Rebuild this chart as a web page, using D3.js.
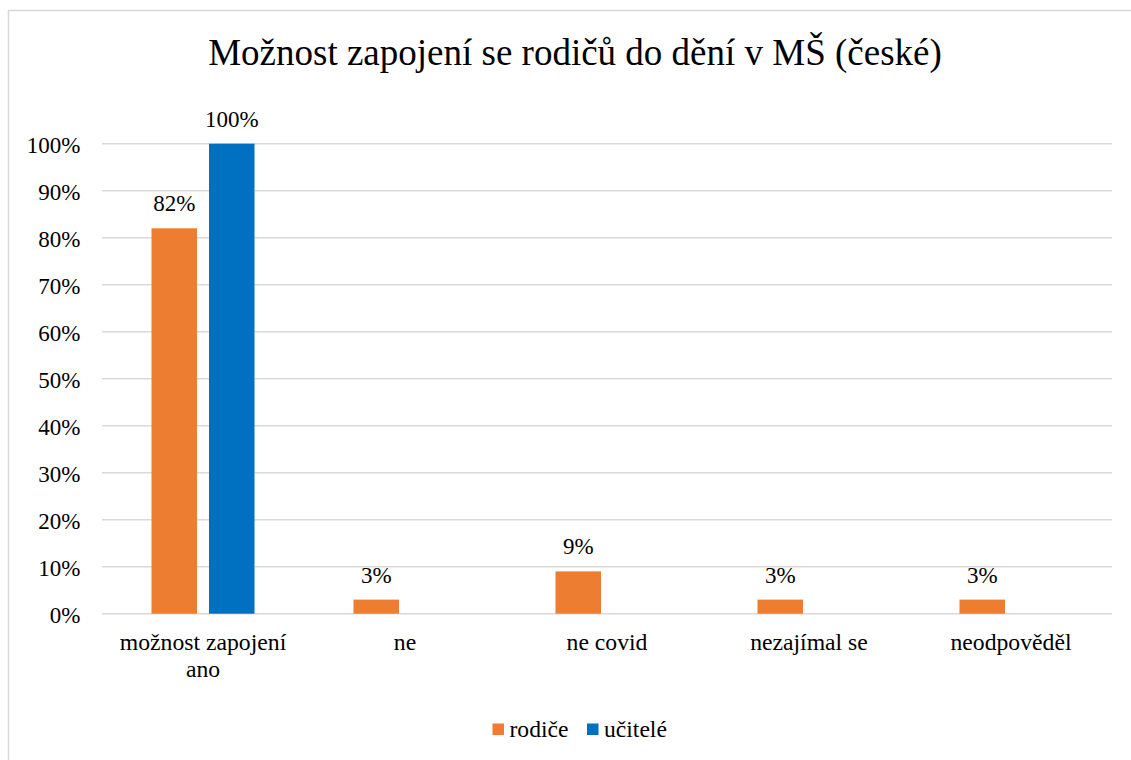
<!DOCTYPE html>
<html>
<head>
<meta charset="utf-8">
<script src="https://cdn.jsdelivr.net/npm/d3@7"></script>
</head>
<body style="margin:0">
<svg id="chart" width="1131" height="760"></svg>
<script>
// chart data
const chartTitle = "Možnost zapojení se rodičů do dění v MŠ (české)";
const categories = ["možnost zapojení ano", "ne", "ne covid", "nezajímal se", "neodpověděl"];
const seriesNames = ["rodiče", "učitelé"];
const rodice = [82, 3, 9, 3, 3];
const ucitele = [100, 0, 0, 0, 0];
const yTicks = [0, 10, 20, 30, 40, 50, 60, 70, 80, 90, 100];

// layout
const svgWidth = 1131;
const svgHeight = 760;
const plotLeft = 102;
const plotRight = 1112;
const plotTop = 143.7;
const plotBottom = 613.7;
const serifFont = "'Liberation Serif', 'Times New Roman', Tinos, serif";
const colors = ["#ED7D31", "#0070C0"];

const svg = d3.select("#chart");

// outer chart border (runs off the right/bottom of the picture)
svg.append("rect")
  .attr("x", 8.5).attr("y", 10.5)
  .attr("width", svgWidth).attr("height", svgHeight)
  .attr("fill", "none")
  .attr("stroke", "#D9D9D9")
  .attr("stroke-width", 1.5);

// title
svg.append("text")
  .attr("x", 575).attr("y", 65)
  .attr("text-anchor", "middle")
  .style("font-family", serifFont)
  .style("font-size", "37px")
  .text(chartTitle);

// scales
const xScale = d3.scaleBand()
  .domain(categories)
  .range([plotLeft, plotRight]);

const yScale = d3.scaleLinear()
  .domain([0, 100])
  .range([plotBottom, plotTop]);

const barWidth = 45.5;
const barGap = 12;
const xSub = d3.scaleOrdinal()
  .domain(seriesNames)
  .range([-(barWidth + barGap / 2), barGap / 2]);

// gridlines
svg.append("g")
  .selectAll("line")
  .data(yTicks)
  .enter()
  .append("line")
  .attr("x1", plotLeft).attr("x2", plotRight)
  .attr("y1", d => yScale(d)).attr("y2", d => yScale(d))
  .attr("stroke", "#D9D9D9")
  .attr("stroke-width", 1.5);

// y axis labels
const yaxis = svg.append("g")
  .attr("transform", `translate(${plotLeft},0)`)
  .call(d3.axisLeft(yScale).tickValues(yTicks).tickFormat(d => d + "%").tickSize(0).tickPadding(21.5));
yaxis.select(".domain").remove();
yaxis.selectAll("text")
  .attr("fill", "#000")
  .attr("dy", "0.37em")
  .style("font-family", serifFont)
  .style("font-size", "23px");

// x axis labels (wrapped like the original)
const xLines = {
  "možnost zapojení ano": ["možnost zapojení", "ano"]
};
const xLabels = svg.append("g");
categories.forEach(c => {
  const lines = xLines[c] || [c];
  const t = xLabels.append("text")
    .attr("x", xScale(c) + xScale.bandwidth() / 2)
    .attr("y", 649.5)
    .attr("text-anchor", "middle")
    .style("font-family", serifFont)
    .style("font-size", "23.7px");
  lines.forEach((l, i) => {
    t.append("tspan")
      .attr("x", xScale(c) + xScale.bandwidth() / 2)
      .attr("dy", i === 0 ? 0 : 27.4)
      .text(l);
  });
});

// bars
const rows = categories.map((c, i) => ({ cat: c, values: [rodice[i], ucitele[i]] }));
const groups = svg.append("g")
  .selectAll("g")
  .data(rows)
  .enter()
  .append("g")
  .attr("transform", d => `translate(${xScale(d.cat) + xScale.bandwidth() / 2},0)`);

groups.selectAll("rect")
  .data(d => d.values.map((v, k) => ({ name: seriesNames[k], value: v, k: k })))
  .enter()
  .append("rect")
  .attr("x", d => xSub(d.name))
  .attr("y", d => yScale(d.value))
  .attr("width", barWidth)
  .attr("height", d => plotBottom - yScale(d.value))
  .attr("fill", d => colors[d.k]);

// data labels, skip zeros
groups.selectAll(".lbl")
  .data(d => d.values.map((v, k) => ({ name: seriesNames[k], value: v })).filter(d => d.value > 0))
  .enter()
  .append("text")
  .attr("class", "lbl")
  .attr("x", d => xSub(d.name) + barWidth / 2)
  .attr("y", d => yScale(d.value) - 17)
  .attr("text-anchor", "middle")
  .style("font-family", serifFont)
  .style("font-size", "23px")
  .text(d => d.value + "%");

// legend
const legendItems = [
  { name: seriesNames[0], x: 492.5 },
  { name: seriesNames[1], x: 587 }
];
const legend = svg.append("g");
legendItems.forEach((d, i) => {
  legend.append("rect")
    .attr("x", d.x).attr("y", 723.5)
    .attr("width", 11.5).attr("height", 11.5)
    .attr("fill", colors[i]);
  legend.append("text")
    .attr("x", d.x + 17).attr("y", 736.5)
    .style("font-family", serifFont)
    .style("font-size", "23.6px")
    .text(d.name);
});
</script>
</body>
</html>
